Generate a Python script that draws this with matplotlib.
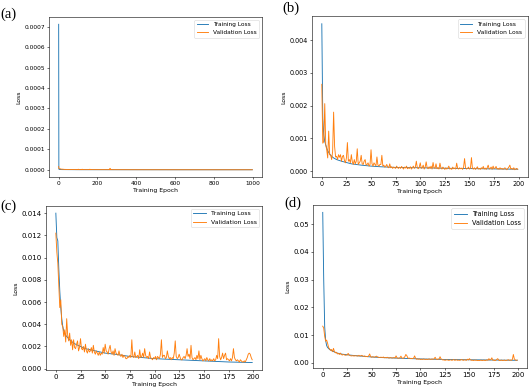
import numpy as np
import matplotlib
matplotlib.use("Agg")
import matplotlib.pyplot as plt

# ---- data ----
# (a) 1000 epochs, values in 1e-6
ep_tr_a = [0, 1, 2, 3, 5, 10, 20, 50, 100, 200, 400, 600, 800, 999]
tr_a = [712, 4, 2.5, 2, 1.5, 1.2, 1, 0.8, 0.6, 0.5, 0.4, 0.3, 0.3, 0.3]
ep_va_a = [0, 1, 2, 5, 8, 10, 15, 20, 30, 50, 80, 100, 101, 102, 120, 121, 122,
           160, 161, 162, 264, 265, 266, 400, 600, 800, 999]
va_a = [16, 8, 6, 5, 5, 4, 3, 3, 2, 1.5, 1.2, 1, 3, 1, 1, 3, 1,
        1, 3, 1, 0.8, 7, 0.8, 0.5, 0.4, 0.3, 0.3]

# (b) 200 epochs, values in 1e-4
ep_tr_b = [0, 1, 2, 3, 4, 5, 6, 8, 10, 12, 15, 20, 25, 30, 40, 50, 60, 75, 100, 125, 150, 175, 199]
tr_b = [45, 16, 11, 9, 8, 7, 6.2, 5.2, 4.5, 4, 3.5, 3, 2.6, 2.2, 1.8, 1.5, 1.3, 1.1, 1.0, 0.85, 0.75, 0.65, 0.55]
va_b = [26.5, 8.5, 9.0, 20.6, 8.0, 6.5, 4.0, 12.2, 5.0, 4.8, 3.5, 6.0, 18.0, 7.5, 4.3, 4.5, 3.5, 5.0, 4.2, 5.0,
        3.0, 4.5, 4.8, 3.2, 2.5, 4.0, 8.7, 3.0, 3.5, 2.5, 5.0, 2.8, 2.0, 3.5, 2.2, 3.0, 6.8, 2.0, 2.5, 3.0,
        4.8, 2.2, 2.0, 3.0, 3.5, 1.8, 2.0, 2.5, 1.5, 2.0, 6.5, 2.2, 1.5, 2.5, 2.0, 1.6, 4.3, 1.8, 1.5, 2.0,
        2.0, 4.8, 1.5, 1.8, 1.2, 1.5, 2.0, 1.2, 1.0, 2.2, 1.0, 1.3, 0.8, 1.2, 1.0, 0.8, 1.5, 1.0, 0.8, 1.2,
        0.8, 1.4, 1.0, 0.6, 1.2, 0.9, 1.5, 0.7, 1.0, 0.8, 1.3, 0.6, 1.0, 1.5, 0.8, 1.2, 3.0, 1.0, 0.7, 1.2,
        2.5, 0.8, 1.0, 1.8, 0.6, 1.2, 2.8, 1.0, 0.7, 1.3, 0.8, 1.5, 0.6, 2.6, 1.0, 0.8, 2.2, 0.7, 1.0, 0.6,
        2.4, 1.0, 0.6, 1.2, 0.8, 0.5, 1.0, 0.6, 0.9, 1.5, 0.6, 0.8, 0.5, 1.2, 0.7, 0.9, 0.6, 2.4, 0.8, 0.6,
        1.0, 0.7, 0.9, 0.5, 1.2, 3.8, 1.0, 0.6, 0.8, 1.2, 0.6, 0.9, 4.1, 0.8, 0.6, 1.0, 0.5, 0.8, 1.3, 0.6,
        0.8, 0.5, 1.0, 0.7, 1.4, 0.6, 0.9, 0.5, 1.0, 1.8, 0.6, 0.8, 1.2, 0.5, 1.5, 0.7, 0.9, 1.4, 0.6, 0.8,
        0.5, 1.0, 0.6, 0.8, 0.5, 0.7, 1.0, 0.6, 0.4, 0.8, 1.2, 1.8, 0.6, 0.8, 0.5, 1.0, 0.4, 0.6, 0.8, 0.5]

# (c) 200 epochs, values in 1e-3
ep_tr_c = [0, 1, 2, 3, 4, 5, 6, 7, 8, 10, 12, 15, 20, 25, 30, 40, 50, 60, 75, 100, 125, 150, 175, 199]
tr_c = [14.0, 11.8, 11.5, 9.0, 7.0, 5.5, 4.5, 3.8, 3.4, 3.0, 2.8, 2.5, 2.2, 2.0, 1.8, 1.6, 1.4, 1.3, 1.1,
        0.9, 0.8, 0.7, 0.6, 0.55]
va_c = [12.2, 10.5, 9.5, 7.5, 5.5, 6.2, 4.0, 3.8, 2.9, 3.5, 2.4, 4.5, 3.0, 2.5, 3.2, 2.1, 2.6, 1.7, 2.6, 1.9,
        1.8, 2.2, 2.5, 1.6, 1.9, 2.7, 1.8, 1.7, 2.0, 1.5, 2.2, 1.6, 1.4, 1.8, 1.5, 1.6, 1.9, 1.4, 2.1, 1.5,
        1.3, 1.6, 1.4, 1.2, 1.5, 1.2, 1.4, 1.3, 1.9, 1.4, 2.2, 1.6, 1.5, 1.3, 1.8, 2.1, 1.5, 1.3, 1.6, 1.2,
        1.8, 1.4, 1.3, 1.2, 1.6, 1.2, 1.1, 1.3, 1.0, 1.2, 1.1, 0.9, 0.9, 1.1, 1.0, 1.2, 1.0, 2.6, 1.1, 1.0,
        1.5, 1.0, 1.1, 1.2, 0.9, 1.7, 1.0, 1.1, 1.4, 1.0, 1.8, 1.2, 1.0, 1.1, 0.9, 1.5, 1.0, 0.9, 0.8, 1.0,
        0.9, 1.1, 0.8, 1.1, 1.0, 0.9, 1.3, 2.6, 1.0, 1.2, 1.2, 0.9, 1.0, 1.6, 1.1, 0.9, 1.0, 0.8, 1.0, 0.9,
        1.4, 2.5, 1.1, 0.9, 1.0, 1.3, 1.0, 0.8, 0.8, 1.0, 1.1, 0.9, 1.2, 1.8, 1.1, 1.3, 0.9, 2.1, 1.0, 0.8,
        0.9, 1.0, 0.8, 1.2, 0.9, 1.6, 0.8, 1.2, 0.9, 0.7, 0.8, 0.9, 0.7, 1.0, 0.8, 0.7, 0.9, 0.7, 0.8, 0.7,
        0.9, 0.7, 0.8, 1.2, 0.9, 2.7, 1.1, 0.8, 1.0, 1.4, 0.9, 1.2, 1.4, 0.8, 0.9, 0.8, 0.7, 0.9, 0.7, 1.0,
        1.8, 1.0, 0.8, 0.7, 0.8, 0.7, 0.6, 0.8, 0.7, 0.6, 0.6, 0.7, 0.6, 0.8, 1.0, 1.3, 1.4, 1.3, 1.0, 0.8]

# (d) 200 epochs, values in 1e-3
ep_tr_d = [0, 1, 2, 3, 4, 5, 7, 10, 15, 20, 30, 40, 50, 60, 75, 100, 125, 150, 175, 199]
tr_d = [54.2, 30, 13, 8, 6.2, 5.5, 4.8, 4.2, 3.5, 3.1, 2.7, 2.4, 2.1, 1.9, 1.7, 1.4, 1.2, 1.1, 1.0, 0.9]
va_d = [13.2, 12.5, 9.5, 7.8, 8.2, 7.0, 5.5, 5.0, 4.5, 4.8, 4.0, 5.2, 4.0, 3.6, 3.8, 3.2, 3.4, 3.0, 3.5, 3.0,
        2.8, 3.0, 2.9, 2.7, 2.8, 2.8, 3.4, 2.8, 2.6, 2.5, 2.5, 2.6, 2.4, 2.6, 2.5, 2.5, 2.4, 2.7, 2.4, 2.5,
        2.7, 2.4, 2.3, 2.5, 2.2, 2.3, 2.2, 2.5, 3.2, 2.2, 2.0, 2.2, 2.1, 2.0, 2.2, 2.4, 2.1, 2.0, 1.9, 2.0,
        2.0, 1.9, 2.1, 1.8, 1.9, 1.8, 2.0, 1.8, 1.7, 1.9, 1.8, 1.7, 1.8, 1.9, 1.7, 2.5, 1.8, 1.6, 1.7, 1.8,
        2.4, 1.7, 1.6, 1.8, 2.2, 3.0, 2.6, 1.8, 1.6, 1.7, 1.5, 1.6, 1.5, 1.7, 2.5, 1.6, 1.3, 1.4, 1.3, 1.4,
        1.2, 1.3, 1.2, 1.4, 1.3, 1.2, 1.3, 1.2, 1.3, 1.4, 1.2, 1.3, 1.4, 1.2, 1.5, 2.0, 1.3, 1.2, 1.4, 1.3,
        2.2, 1.4, 1.2, 1.0, 1.1, 0.9, 1.0, 1.1, 1.0, 0.9, 1.0, 1.1, 0.9, 1.0, 1.2, 0.9, 1.0, 1.1, 0.9, 1.0,
        0.9, 1.0, 1.2, 1.0, 0.9, 1.1, 1.0, 0.9, 1.3, 1.0, 1.5, 1.1, 0.9, 1.0, 0.8, 1.0, 0.9, 1.0, 0.8, 0.9,
        0.8, 0.9, 1.0, 0.8, 0.9, 1.0, 0.8, 0.9, 1.1, 0.9, 1.5, 1.0, 1.2, 1.8, 0.9, 1.0, 0.8, 0.9, 1.2, 1.5,
        1.0, 0.8, 0.9, 1.0, 0.8, 0.9, 1.0, 0.8, 0.9, 1.0, 1.1, 0.9, 1.0, 0.9, 1.2, 3.0, 1.4, 1.0, 0.9, 1.0]

ticks200 = [0, 25, 50, 75, 100, 125, 150, 175, 200]
panels = [
    # label, axes rect, train x, train y, val x, val y, scale, xticks, y format, tick size, legend size
    ("(a)", [0.0926, 0.5426, 0.4027, 0.4134], ep_tr_a, tr_a, ep_va_a, va_a, 1e-6,
     [0, 200, 400, 600, 800, 1000], "%.4f", 4.2, 4.2),
    ("(b)", [0.5898, 0.5426, 0.4074, 0.4148], ep_tr_b, tr_b, list(range(200)), va_b, 1e-4,
     ticks200, "%.3f", 4.7, 4.3),
    ("(c)", [0.0870, 0.0439, 0.4083, 0.4246], ep_tr_c, tr_c, list(range(200)), va_c, 1e-3,
     ticks200, "%.3f", 5.0, 4.4),
    ("(d)", [0.5917, 0.0491, 0.4045, 0.4212], ep_tr_d, tr_d, list(range(200)), va_d, 1e-3,
     ticks200, "%.2f", 5.0, 4.7),
]
label_pos = [(0.0, 0.964), (0.533, 0.979), (0.0, 0.468), (0.537, 0.475)]

fig = plt.figure(figsize=(5.29, 3.87), dpi=100)

for (lab, rect, xt, yt, xv, yv, sc, xticks, fmt, tfs, lfs), (lx, ly) in zip(panels, label_pos):
    ax = fig.add_axes(rect)
    ax.plot(xt, np.array(yt) * sc, color='#1f77b4', lw=0.65, label='Training Loss')
    ax.plot(xv, np.array(yv) * sc, color='#ff7f0e', lw=0.65, label='Validation Loss')
    ax.set_xticks(xticks)
    ax.yaxis.set_major_formatter(matplotlib.ticker.FormatStrFormatter(fmt))
    ax.tick_params(labelsize=tfs, length=1.5, width=0.4, pad=1.5)
    for s in ax.spines.values():
        s.set_linewidth(0.4)
    ax.set_xlabel('Training Epoch', fontsize=4.4, labelpad=1.5)
    ax.set_ylabel('Loss', fontsize=4.4, labelpad=2)
    leg = ax.legend(loc='upper right', fontsize=lfs)
    leg.get_frame().set_linewidth(0.4)
    fig.text(lx, ly, lab, fontsize=10.5, family='Liberation Serif', va='center', ha='left')

fig.savefig('out.png', dpi=100)
